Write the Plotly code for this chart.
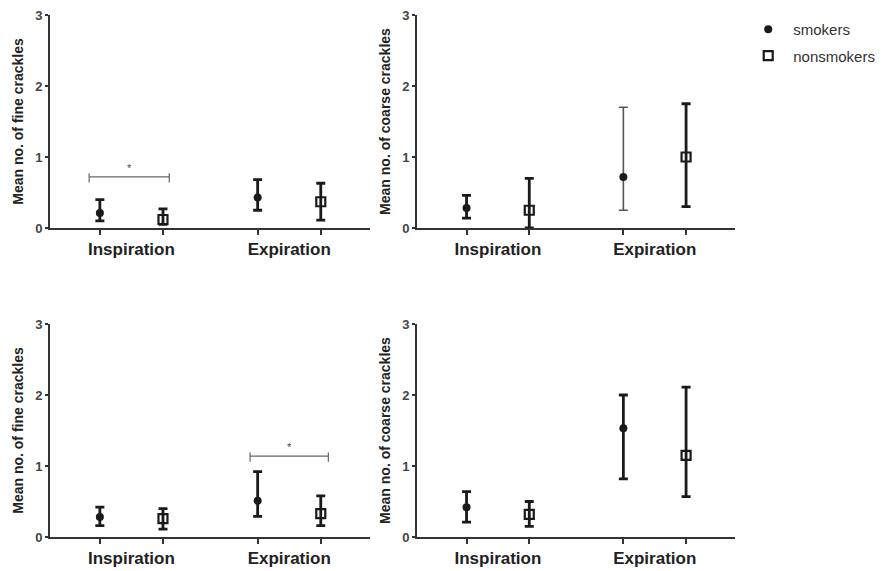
import plotly.graph_objects as go

# ---- data ----
positions = [1, 2, 3.5, 4.5]          # Insp-smk, Insp-non, Exp-smk, Exp-non
groups = ["smokers", "nonsmokers", "smokers", "nonsmokers"]
phase_labels = ["Inspiration", "Expiration"]
phase_centers = [1.5, 4.0]

# panel order: top-left, top-right, bottom-left, bottom-right
fine1_mean = [0.21, 0.12, 0.43, 0.37]
fine1_hi = [0.40, 0.27, 0.68, 0.63]
fine1_lo = [0.10, 0.05, 0.25, 0.11]

coarse1_mean = [0.28, 0.25, 0.72, 1.00]
coarse1_hi = [0.46, 0.70, 1.70, 1.75]
coarse1_lo = [0.14, 0.00, 0.25, 0.30]

fine2_mean = [0.28, 0.26, 0.51, 0.33]
fine2_hi = [0.42, 0.40, 0.92, 0.58]
fine2_lo = [0.16, 0.11, 0.29, 0.16]

coarse2_mean = [0.42, 0.32, 1.53, 1.15]
coarse2_hi = [0.64, 0.50, 2.00, 2.11]
coarse2_lo = [0.21, 0.15, 0.82, 0.57]

y_titles = ["Mean no. of fine crackles", "Mean no. of coarse crackles",
            "Mean no. of fine crackles", "Mean no. of coarse crackles"]

# significance brackets: (panel index, x0, x1, y)
sig_panel = [0, 2]
sig_x0 = [0.83, 3.38]
sig_x1 = [2.10, 4.62]
sig_y = [0.72, 1.14]

panels = [
    (fine1_mean, fine1_hi, fine1_lo),
    (coarse1_mean, coarse1_hi, coarse1_lo),
    (fine2_mean, fine2_hi, fine2_lo),
    (coarse2_mean, coarse2_hi, coarse2_lo),
]

# ---- layout geometry (page has an 8px body margin) ----
W, H = 877, 563
ml, mr, mt, mb = 42, 150, 7, 34
pw = W - ml - mr
ph = H - mt - mb
xdom = [[0, 320 / pw], [367 / pw, 1]]
ydom_top = [1 - 213 / ph, 1]
ydom_bot = [0, 213 / ph]

fig = go.Figure()

axis_ids = ["", "2", "3", "4"]
domains = [(xdom[0], ydom_top), (xdom[1], ydom_top), (xdom[0], ydom_bot), (xdom[1], ydom_bot)]

ink = "#1a1a1a"
thin_points = {(1, 2)}  # panel 1, point 2 drawn with a lighter bar
FONT = "Liberation Sans, Arial, sans-serif"

shown = set()
for p, (mean, hi, lo) in enumerate(panels):
    xa = "x" + axis_ids[p]
    ya = "y" + axis_ids[p]
    for i in range(4):
        g = groups[i]
        is_thin = (p, i) in thin_points
        marker = (dict(symbol="circle", size=8, color=ink) if g == "smokers"
                  else dict(symbol="square-open", size=9, color=ink, line=dict(width=2.2, color=ink)))
        fig.add_trace(go.Scatter(
            x=[positions[i]], y=[mean[i]], mode="markers",
            marker=marker, name=g, legendgroup=g,
            showlegend=(g not in shown),
            error_y=dict(type="data", symmetric=False,
                         array=[hi[i] - mean[i]], arrayminus=[mean[i] - lo[i]],
                         thickness=1.6 if is_thin else 2.8,
                         width=4.5, color="#555555" if is_thin else ink),
            xaxis=xa, yaxis=ya, cliponaxis=False,
        ))
        shown.add(g)

layout = dict(
    width=W, height=H, margin=dict(l=ml, r=mr, t=mt, b=mb, autoexpand=False),
    plot_bgcolor="white", paper_bgcolor="white",
    font=dict(family=FONT, color="#222"),
    showlegend=True,
    legend=dict(x=1.012, y=1.004, xanchor="left", yanchor="top",
                font=dict(size=15, color="#333", family=FONT), tracegroupgap=4,
                itemwidth=40, bgcolor="rgba(0,0,0,0)"),
    annotations=[], shapes=[],
)

for p in range(4):
    xd, yd = domains[p]
    sfx = axis_ids[p]
    layout["xaxis" + sfx] = dict(
        domain=xd, range=[0.21, 5.28], anchor="y" + sfx, automargin=False,
        showline=True, linecolor="#333", linewidth=1.6,
        showgrid=False, zeroline=False,
        tickvals=phase_centers, ticktext=phase_labels, ticks="",
        ticklabelstandoff=5, ticklabeloverflow="allow",
        tickfont=dict(size=17, color="#222", family=FONT, weight="bold"),
        minor=dict(tickvals=positions, ticks="outside", ticklen=5, tickwidth=1.5, tickcolor="#333", showgrid=False),
        fixedrange=True,
    )
    layout["yaxis" + sfx] = dict(
        domain=yd, range=[0, 3], anchor="x" + sfx, automargin=False,
        showline=True, linecolor="#333", linewidth=1.6,
        showgrid=False, zeroline=False,
        tickvals=[0, 1, 2, 3], ticks="outside", ticklen=3, tickwidth=1.5, tickcolor="#333",
        ticklabeloverflow="allow",
        tickfont=dict(size=13, color="#444", family=FONT, weight="bold"),
        title=dict(text=y_titles[p], font=dict(size=14, color="#222", family=FONT, weight="bold"), standoff=8),
        fixedrange=True,
    )

for k in range(len(sig_panel)):
    sfx = axis_ids[sig_panel[k]]
    xr, yr = "x" + sfx, "y" + sfx
    line = dict(color="#666", width=1.2)
    layout["shapes"].append(dict(type="line", xref=xr, yref=yr, x0=sig_x0[k], x1=sig_x1[k],
                                 y0=sig_y[k], y1=sig_y[k], line=line))
    for xx in (sig_x0[k], sig_x1[k]):
        layout["shapes"].append(dict(type="line", xref=xr, yref=yr, x0=xx, x1=xx,
                                     y0=sig_y[k] - 0.08, y1=sig_y[k] + 0.05, line=line))
    layout["annotations"].append(dict(xref=xr, yref=yr, x=(sig_x0[k] + sig_x1[k]) / 2,
                                      y=sig_y[k] + 0.13, text="*", showarrow=False,
                                      font=dict(size=11, color="#444")))

fig.update_layout(**layout)
fig.write_html("out.html")
